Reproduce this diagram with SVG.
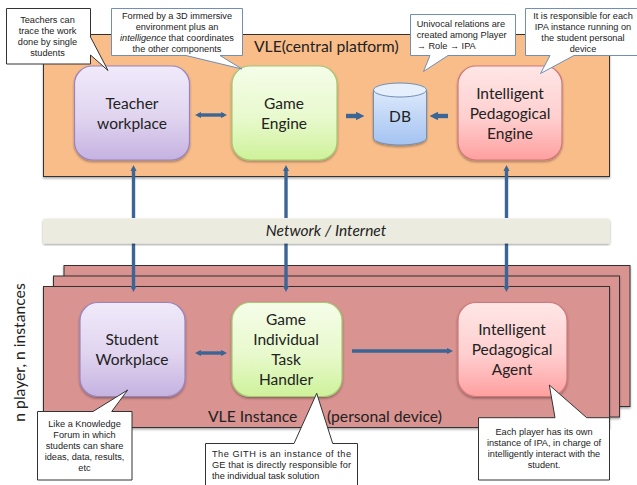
<svg xmlns="http://www.w3.org/2000/svg" width="637" height="485" viewBox="0 0 637 485">
<style>
.lbl{font-family:"Lato","Carlito","Liberation Sans",sans-serif;font-size:15.5px;fill:#222;text-anchor:middle}
.big{font-family:"Lato","Liberation Sans",sans-serif;font-size:15.7px;fill:#222}
.note{font-family:"Liberation Sans",Arial,sans-serif;font-size:9.2px;fill:#222;text-anchor:middle}
.panel{stroke:#333;stroke-width:1;filter:url(#sh)}
.node{stroke-width:1.2;filter:url(#sh)}
.cb{fill:#fff;stroke:#333;stroke-width:1}
.cbb{fill:#fff;stroke:#6f8fb5;stroke-width:1}
.con{stroke:#3b6595;stroke-width:3.4;fill:none}
.thick{stroke-width:4.4}
.tip{fill:#3b6595}
</style>
<defs>
<filter id="sh" x="-10%" y="-10%" width="120%" height="120%"><feDropShadow dx="0" dy="1.5" stdDeviation="1.2" flood-color="#000" flood-opacity="0.35"/></filter>
<linearGradient id="gP" x1="0" y1="0" x2="0" y2="1"><stop offset="0" stop-color="#f0eafa"/><stop offset="0.55" stop-color="#e0d4ef"/><stop offset="1" stop-color="#c5b2e1"/></linearGradient>
<linearGradient id="gG" x1="0" y1="0" x2="0" y2="1"><stop offset="0" stop-color="#f5fde8"/><stop offset="0.55" stop-color="#e8f9cd"/><stop offset="1" stop-color="#cef29a"/></linearGradient>
<linearGradient id="gR" x1="0" y1="0" x2="0" y2="1"><stop offset="0" stop-color="#ffe6e6"/><stop offset="0.55" stop-color="#ffcfcf"/><stop offset="1" stop-color="#ff9f9f"/></linearGradient>
<linearGradient id="gB" x1="0" y1="0" x2="0" y2="1"><stop offset="0" stop-color="#dce9fb"/><stop offset="1" stop-color="#a4c3f2"/></linearGradient>
<marker id="a" viewBox="0 0 6 6" refX="3" refY="3" markerWidth="1.8" markerHeight="1.8" orient="auto-start-reverse"><path d="M0 0L6 3L0 6Z" class="tip"/></marker>
<marker id="b" viewBox="0 0 6 6" refX="3" refY="3" markerWidth="2" markerHeight="2" orient="auto"><path d="M0 0L6 3L0 6Z" class="tip"/></marker>
</defs>

<g id="panel-vle">
<rect class="panel" x="43.5" y="34.5" width="566" height="142" fill="#f9bd8a"/>
<text class="big" x="254" y="52">VLE(central platform)</text>
</g>

<g id="panel-instances">
<rect class="panel" x="64" y="265.5" width="566" height="141" fill="#d99391"/>
<rect class="panel" x="53.5" y="276" width="566" height="141" fill="#d99391"/>
<rect class="panel" x="43.5" y="286.5" width="566" height="141" fill="#d99391"/>
<text class="big" x="208" y="422">VLE Instance</text>
<text class="big" x="327" y="422">(personal device)</text>
</g>

<g id="connectors">
<path class="con" d="M133.500 218V168" marker-end="url(#a)"/>
<path class="con" d="M286 218V168" marker-end="url(#a)"/>
<path class="con" d="M506.500 218V168" marker-end="url(#a)"/>
<path class="con" d="M133.500 243V289" marker-end="url(#a)"/>
<path class="con" d="M286 243V289" marker-end="url(#a)"/>
<path class="con" d="M506.500 243V289" marker-end="url(#a)"/>
<path class="con" d="M198 115H224" marker-start="url(#a)" marker-end="url(#a)"/>
<path class="con thick" d="M346 116H360" marker-end="url(#b)"/>
<path class="con thick" d="M448 116H434" marker-end="url(#b)"/>
<path class="con" d="M198 353H224" marker-start="url(#a)" marker-end="url(#a)"/>
<path class="con" d="M352 351H450" marker-end="url(#a)"/>
</g>

<g id="network">
<rect x="43" y="218.500" width="567" height="25" rx="2" fill="#ecebe0" filter="url(#sh)"/>
<text class="lbl" x="326" y="236" font-style="italic">Network / Internet</text>
</g>

<g id="teacher-workplace">
<rect class="node" x="74.500" y="66" width="115" height="94" rx="18" fill="url(#gP)" stroke="#9a84c0"/>
<text class="lbl" x="132" y="109">Teacher</text>
<text class="lbl" x="132" y="129">workplace</text>
</g>
<g id="game-engine">
<rect class="node" x="232" y="66" width="105" height="94" rx="18" fill="url(#gG)" stroke="#a5c872"/>
<text class="lbl" x="284" y="109">Game</text>
<text class="lbl" x="284" y="129">Engine</text>
</g>
<g id="db">
<path d="M373.500 90V138A26.500 7 0 0 0 426.500 138V90Z" fill="url(#gB)" stroke="#6f8fb5" filter="url(#sh)"/>
<ellipse cx="400" cy="90" rx="26.500" ry="7" fill="#e6effc" stroke="#6f8fb5"/>
<text class="lbl" x="400" y="122">DB</text>
</g>
<g id="intelligent-pedagogical-engine">
<rect class="node" x="458" y="66" width="104" height="94" rx="18" fill="url(#gR)" stroke="#cf7878"/>
<text class="lbl" x="510" y="99">Intelligent</text>
<text class="lbl" x="510" y="119">Pedagogical</text>
<text class="lbl" x="510" y="139">Engine</text>
</g>
<g id="student-workplace">
<rect class="node" x="80" y="302.500" width="105" height="94" rx="18" fill="url(#gP)" stroke="#9a84c0"/>
<text class="lbl" x="132" y="345">Student</text>
<text class="lbl" x="132" y="365">Workplace</text>
</g>
<g id="game-task-handler">
<rect class="node" x="232" y="302.500" width="110" height="94" rx="18" fill="url(#gG)" stroke="#a5c872"/>
<text class="lbl" x="286" y="325">Game</text>
<text class="lbl" x="286" y="345">Individual</text>
<text class="lbl" x="286" y="365">Task</text>
<text class="lbl" x="286" y="385">Handler</text>
</g>
<g id="intelligent-pedagogical-agent">
<rect class="node" x="458" y="302.500" width="109" height="94" rx="18" fill="url(#gR)" stroke="#cf7878"/>
<text class="lbl" x="512" y="335">Intelligent</text>
<text class="lbl" x="512" y="355">Pedagogical</text>
<text class="lbl" x="512" y="375">Agent</text>
</g>

<g id="side-label">
<text class="big" transform="translate(25 352.500) rotate(-90)" text-anchor="middle">n player, n instances</text>
</g>

<g id="note-teachers">
<path class="cb" d="M6.500 8.500H90.500V37L108 70.500L90.500 55V64H6.500Z"/>
<text class="note" x="47.500" y="23">Teachers can</text>
<text class="note" x="47.500" y="34">trace the work</text>
<text class="note" x="47.500" y="45">done by single</text>
<text class="note" x="47.500" y="56">students</text>
</g>
<g id="note-formed">
<path class="cbb" d="M111.500 8.500H242.500V55.500H220L242 69L186 55.500H111.500Z"/>
<text class="note" x="177" y="19" textLength="110">Formed by a 3D immersive</text>
<text class="note" x="177" y="30">environment plus an</text>
<text class="note" x="177" y="41"><tspan font-style="italic">intelligence</tspan> that coordinates</text>
<text class="note" x="177" y="52">the other components</text>
</g>
<g id="note-univocal">
<path class="cbb" d="M410.500 14.500H515.500V55.500H448L423.500 71.500L430 55.500H410.500Z"/>
<text class="note" x="416.700" y="27" style="text-anchor:start">Univocal relations are</text>
<text class="note" x="416.700" y="38" style="text-anchor:start">created among Player</text>
<text class="note" x="416.700" y="49" style="text-anchor:start">→ Role → IPA</text>
</g>
<g id="note-responsible">
<path class="cbb" d="M637 8.500H525.500V55.500H550L540.500 73.500L574 55.500H637"/>
<text class="note" x="583" y="19">It is responsible for each</text>
<text class="note" x="583" y="30">IPA instance running on</text>
<text class="note" x="583" y="41">the student personal</text>
<text class="note" x="583" y="52">device</text>
</g>
<g id="note-student">
<path class="cb" d="M37.500 411.500H93L127.700 390L111.700 411.500H132V480H37.500Z"/>
<text class="note" x="84.500" y="427">Like a Knowledge</text>
<text class="note" x="84.500" y="438">Forum in which</text>
<text class="note" x="84.500" y="449">students can share</text>
<text class="note" x="84.500" y="460">ideas, data, results,</text>
<text class="note" x="84.500" y="471">etc</text>
</g>
<g id="note-gith">
<path class="cb" d="M205.500 485V443.500H294L316.700 393.300L332.700 443.500H357.500V485"/>
<text class="note" x="212" y="456.700" style="text-anchor:start" textLength="139">The GITH is an instance of the</text>
<text class="note" x="212" y="467.700" style="text-anchor:start" textLength="139">GE that is directly responsible for</text>
<text class="note" x="212" y="478.700" style="text-anchor:start">the individual task solution</text>
</g>
<g id="note-ipa">
<path class="cb" d="M478.500 417.700H555L549.300 385L586.700 417.700H609.500V480H478.500Z"/>
<text class="note" x="544" y="435">Each player has its own</text>
<text class="note" x="544" y="446">instance of IPA, in charge of</text>
<text class="note" x="544" y="457">intelligently interact with  the</text>
<text class="note" x="544" y="468">student.</text>
</g>
</svg>
